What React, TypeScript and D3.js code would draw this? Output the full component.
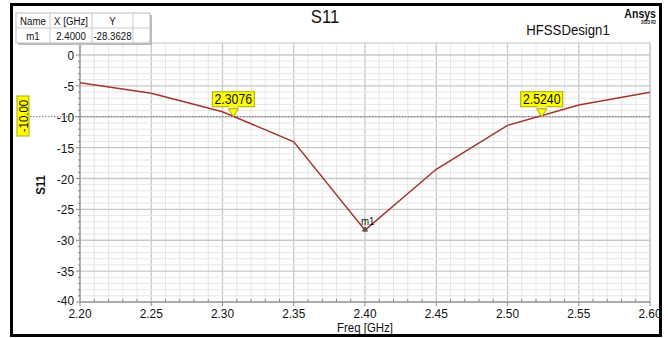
import React, { useEffect, useRef } from 'react'
import * as d3 from 'd3'

const freqs = [2.2, 2.25, 2.3, 2.35, 2.4, 2.45, 2.5, 2.55, 2.6]
const s11 = [-4.5, -6.2, -9.2, -14.05, -28.36, -18.5, -11.4, -8.1, -6.05]
const xTicks = [2.2, 2.25, 2.3, 2.35, 2.4, 2.45, 2.5, 2.55, 2.6]
const yTicks = [0, -5, -10, -15, -20, -25, -30, -35, -40]
const crossMarkers = [2.3076, 2.524]
const markerTable = [['Name', 'X [GHz]', 'Y', ''], ['m1', '2.4000', '-28.3628', '']]

const FONT = '"Liberation Sans", Arial, sans-serif'

export const S11Chart = () => {
  const ref = useRef<SVGSVGElement>(null)

  useEffect(() => {
    const svg = d3.select(ref.current)
    svg.selectAll('*').remove()

    // narrow-ish text like the HFSS export
    const txt = (x: number, y: number, s: string, size: number, anchor = 'middle', rot = 0, bold = false) =>
      svg.append('text')
        .attr('transform', `translate(${x},${y}) rotate(${rot}) scale(0.88,1)`)
        .attr('text-anchor', anchor).attr('font-family', FONT).attr('font-size', size)
        .attr('font-weight', bold ? 'bold' : 'normal').attr('fill', '#111').text(s)

    const x = d3.scaleLinear().domain([2.2, 2.6]).range([80, 650])
    const y = d3.scaleLinear().domain([-40, 0]).range([302, 55])
    const frameTop = 43

    // outer frame
    svg.append('rect').attr('x', 11.5).attr('y', 4.5).attr('width', 649).attr('height', 331)
      .attr('fill', '#fff').attr('stroke', '#000').attr('stroke-width', 3)

    // plot background
    svg.append('rect').attr('x', 80).attr('y', frameTop).attr('width', 570).attr('height', 302 - frameTop)
      .attr('fill', '#fff').attr('stroke', '#c4c4c4')

    // grid
    const g = svg.append('g')
    d3.range(2.2, 2.6001, 0.01).forEach((v) => {
      const major = Math.abs(v * 20 - Math.round(v * 20)) < 1e-6
      g.append('line').attr('x1', x(v)).attr('x2', x(v)).attr('y1', frameTop).attr('y2', 302)
        .attr('stroke', major ? '#c8c8c8' : '#e6e6e6').attr('stroke-width', major ? 1.3 : 1)
    })
    d3.range(-40, 0.001, 1).forEach((v) => {
      const major = v % 5 === 0
      g.append('line').attr('x1', 80).attr('x2', 650).attr('y1', y(v)).attr('y2', y(v))
        .attr('stroke', major ? '#c8c8c8' : '#e6e6e6').attr('stroke-width', major ? 1.3 : 1)
    })

    // axes
    svg.append('line').attr('x1', 80).attr('x2', 80).attr('y1', frameTop).attr('y2', 302).attr('stroke', '#888')
    svg.append('line').attr('x1', 80).attr('x2', 650).attr('y1', 302).attr('y2', 302).attr('stroke', '#888')
    d3.range(-40, 0.001, 1).forEach((v) => {
      const major = v % 5 === 0
      svg.append('line').attr('x1', major ? 76 : 78).attr('x2', 80).attr('y1', y(v)).attr('y2', y(v)).attr('stroke', '#888')
    })
    d3.range(2.2, 2.6001, 0.01).forEach((v) => {
      const major = Math.abs(v * 20 - Math.round(v * 20)) < 1e-6
      svg.append('line').attr('x1', x(v)).attr('x2', x(v)).attr('y1', 302).attr('y2', major ? 306 : 299).attr('stroke', '#888')
    })

    yTicks.forEach((d) => txt(74, y(d) + (d === -40 ? 3 : 5), String(d), 13.5, 'end'))
    xTicks.forEach((d) => txt(x(d), 318, d.toFixed(2), 13.5))

    txt(365, 332, 'Freq [GHz]', 13)
    txt(45, 185, 'S11', 13, 'middle', -90, true)

    // -10 reference line
    svg.append('line').attr('x1', 30).attr('x2', 650).attr('y1', y(-10)).attr('y2', y(-10))
      .attr('stroke', '#777').attr('stroke-dasharray', '1.5,1.5')
    svg.append('rect').attr('x', 17).attr('y', 96).attr('width', 12).attr('height', 40)
      .attr('fill', '#ffff00').attr('stroke', '#a8a800')
    txt(27.5, 116, '-10.00', 13, 'middle', -90)

    // curve
    const line = d3.line<number>().x((_, i) => x(freqs[i])).y((d) => y(d))
    svg.append('path').datum(s11).attr('d', line).attr('fill', 'none')
      .attr('stroke', '#a2352f').attr('stroke-width', 1.5)

    // crossing markers
    crossMarkers.forEach((f) => {
      const px = x(f)
      const py = y(-10)
      svg.append('path').attr('d', `M${px},${py} L${px - 5},${py - 8} L${px + 5},${py - 8} Z`)
        .attr('fill', '#ffff00').attr('stroke', '#a8a800')
      svg.append('rect').attr('x', px - 21).attr('y', py - 25).attr('width', 42).attr('height', 15)
        .attr('fill', '#ffff00').attr('stroke', '#a8a800')
      svg.append('path').attr('d', `M${px - 4},${py - 10.5} L${px + 4},${py - 10.5}`).attr('stroke', '#ffff00').attr('stroke-width', 1.5)
      txt(px, py - 12.5, f.toFixed(4), 14)
    })

    // m1 marker
    const mx = x(2.4)
    const my = y(-28.36)
    svg.append('path').attr('d', `M${mx - 2.5},${my + 1} L${mx},${my - 3} L${mx + 2.5},${my + 1} Z`)
      .attr('fill', 'none').attr('stroke', '#333')
    txt(mx - 4, my - 5, 'm1', 11, 'start')

    // titles
    txt(325, 23, 'S11', 19)
    txt(568, 35, 'HFSSDesign1', 15)
    txt(656, 18, 'Ansys', 12, 'end', 0, true)
    txt(656, 24, '2023 R2', 4.5, 'end', 0, true)

    // marker table
    const colX = [16, 50, 92, 133, 150]
    const rowY = [13, 28, 43]
    svg.append('rect').attr('x', 18).attr('y', 15).attr('width', 134).attr('height', 30).attr('fill', '#bbb')
    svg.append('rect').attr('x', 16).attr('y', 13).attr('width', 134).attr('height', 30)
      .attr('fill', '#fff').attr('stroke', '#bbb')
    colX.slice(1, 4).forEach((cx) => {
      svg.append('line').attr('x1', cx).attr('x2', cx).attr('y1', 13).attr('y2', 43).attr('stroke', '#ccc')
    })
    svg.append('line').attr('x1', 16).attr('x2', 150).attr('y1', 28).attr('y2', 28).attr('stroke', '#ccc')
    markerTable.forEach((row, ri) => {
      row.forEach((cell, ci) => {
        txt((colX[ci] + colX[ci + 1]) / 2, rowY[ri] + 11.5, cell, 11)
      })
    })
  }, [])

  return <svg ref={ref} width={668} height={338} style={{ position: 'absolute', left: 0, top: 0 }}></svg>
}

export default S11Chart
